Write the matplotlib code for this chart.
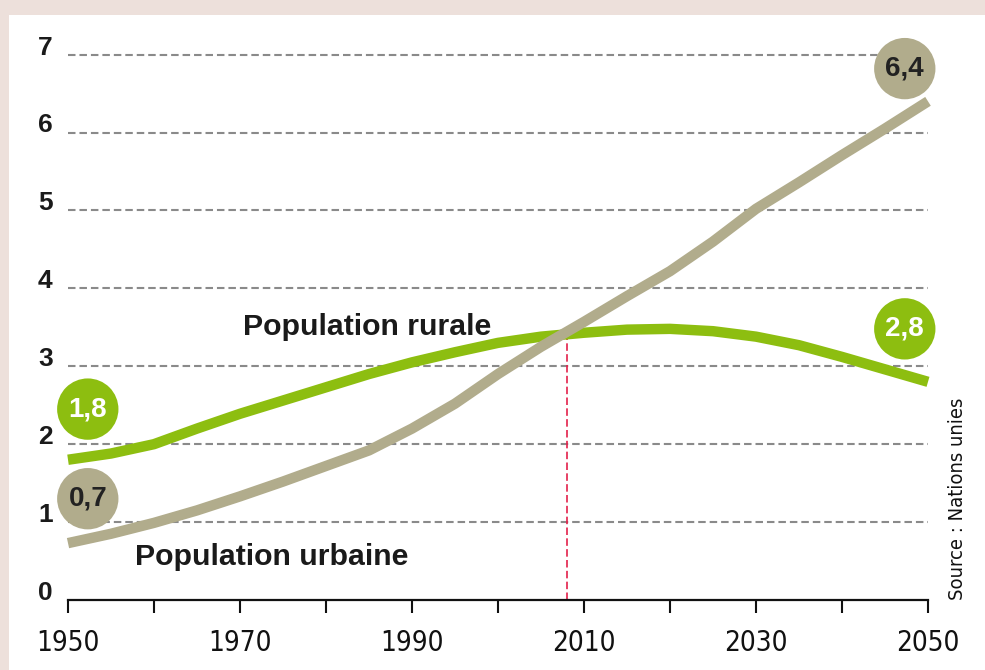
import matplotlib
matplotlib.use("Agg")
import matplotlib.pyplot as plt
from matplotlib.patches import Rectangle

# ---- data ----
years = [1950, 1955, 1960, 1965, 1970, 1975, 1980, 1985, 1990, 1995, 2000,
         2005, 2010, 2015, 2020, 2025, 2030, 2035, 2040, 2045, 2050]
urban = [0.73, 0.85, 0.99, 1.15, 1.33, 1.52, 1.72, 1.92, 2.20, 2.52, 2.90,
         3.25, 3.57, 3.90, 4.22, 4.60, 5.02, 5.36, 5.71, 6.05, 6.40]
rural = [1.80, 1.88, 2.00, 2.20, 2.39, 2.56, 2.73, 2.90, 3.05, 3.18, 3.30,
         3.38, 3.43, 3.47, 3.48, 3.45, 3.38, 3.27, 3.12, 2.96, 2.80]
x_ticks = [1950, 1960, 1970, 1980, 1990, 2000, 2010, 2020, 2030, 2040, 2050]
x_ticklabels = ["1950", "", "1970", "", "1990", "", "2010", "", "2030", "", "2050"]
y_ticks = [0, 1, 2, 3, 4, 5, 6, 7]
y_ticklabels = ["0", "1", "2", "3", "4", "5", "6", "7"]
marker_year = 2008
marker_value = 3.41
bubble_labels = ["1,8", "0,7", "6,4", "2,8"]
series_names = ["Population rurale", "Population urbaine"]
source_text = "Source : Nations unies"

GREEN = "#8DBE10"
TAN = "#B1AC8C"
PINK = "#EDE0DB"

fig = plt.figure(figsize=(9.85, 6.70), dpi=100)
fig.patch.set_facecolor(PINK)
bg = Rectangle((9 / 985, 0), 1, 1 - 15 / 670, transform=fig.transFigure,
               facecolor="white", edgecolor="none", zorder=-5)
fig.patches.append(bg)

ax = fig.add_axes([68 / 985, 70 / 670, 860 / 985, 561 / 670])
ax.set_zorder(2)
ax.set_facecolor("none")
ax.set_xlim(1950, 2050)
ax.set_ylim(0, 7.2)

for s in ["top", "right", "left"]:
    ax.spines[s].set_visible(False)
ax.spines["bottom"].set_linewidth(1.6)
ax.spines["bottom"].set_color("#111111")

# gridlines
for yv in y_ticks[1:]:
    ax.plot([1950, 2050], [yv, yv], color="#8a8a8a", lw=1.5,
            dashes=(3.6, 1.9), zorder=1, solid_capstyle="butt")

# red marker line
ax.plot([marker_year, marker_year], [0, marker_value], color="#E3204A", lw=1.2,
        dashes=(4.5, 2.0), zorder=2)

# series
ax.plot(years, rural, color=GREEN, lw=7.5, solid_capstyle="butt",
        solid_joinstyle="round", zorder=3, clip_on=False)
ax.plot(years, urban, color=TAN, lw=7.5, solid_capstyle="butt",
        solid_joinstyle="round", zorder=4, clip_on=False)

# ticks
ax.set_xticks(x_ticks)
ax.set_xticklabels(x_ticklabels, family="DejaVu Sans", stretch="condensed",
                   fontsize=20, color="#111111")
ax.tick_params(axis="x", direction="out", length=9, width=1.5, pad=12,
               color="#111111")
ax.set_yticks(y_ticks)
ax.set_yticklabels(y_ticklabels, family=["Liberation Sans", "DejaVu Sans"],
                   fontweight="bold", fontsize=19, color="#1a1a1a")
ax.tick_params(axis="y", length=0, pad=11)
for lbl in ax.get_yticklabels():
    lbl.set_verticalalignment("baseline")

# bubbles
bubbles = [
    (1952.3, 2.45, GREEN, "white", bubble_labels[0]),
    (1952.3, 1.30, TAN, "#222222", bubble_labels[1]),
    (2047.3, 6.82, TAN, "#222222", bubble_labels[2]),
    (2047.3, 3.48, GREEN, "white", bubble_labels[3]),
]
for bx, by, fc, tc, txt in bubbles:
    ax.scatter([bx], [by], s=1950, color=fc, zorder=6, clip_on=False,
               edgecolors="none")
    ax.text(bx, by, txt, color=tc, fontsize=20, fontweight="bold",
            family=["Liberation Sans", "DejaVu Sans"], ha="center",
            va="center", zorder=7)

# series labels
ax.text(1970.3, 3.5, series_names[0], fontsize=21.8, fontweight="bold",
        family=["Liberation Sans", "DejaVu Sans"], color="#1a1a1a",
        ha="left", va="center", zorder=5)
ax.text(1957.8, 0.55, series_names[1], fontsize=21.8, fontweight="bold",
        family=["Liberation Sans", "DejaVu Sans"], color="#1a1a1a",
        ha="left", va="center", zorder=5)

# source
ax.text(1.034, 0.0, source_text, transform=ax.transAxes, rotation=90,
        fontsize=14.5, family="DejaVu Sans", stretch="condensed",
        color="#111111", ha="center", va="bottom")

fig.savefig("out.png", dpi=100, facecolor=fig.get_facecolor())
